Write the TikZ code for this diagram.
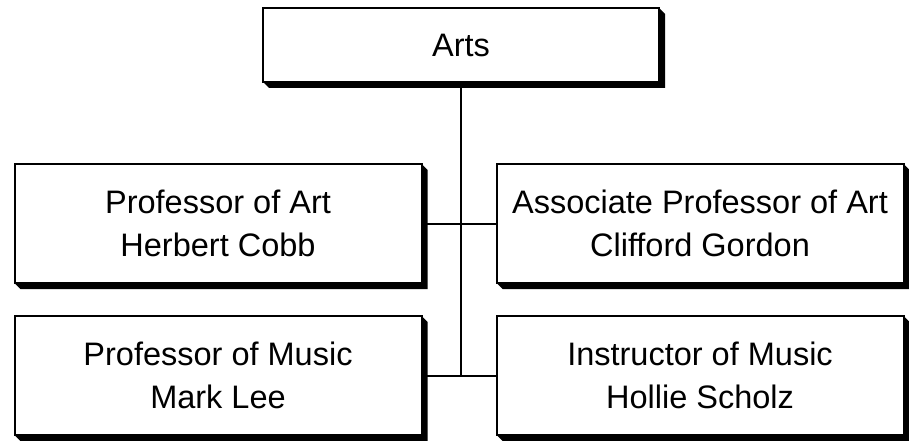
\documentclass[tikz,border=0pt]{standalone}
\usepackage{fontspec}
\setmainfont{Liberation Sans}
\pgfdeclarelayer{bg}
\pgfsetlayers{bg,main}
\begin{document}
\begin{tikzpicture}[x=1pt,y=-1pt,
  orgbox/.style={draw=black, line width=2pt, fill=white, rectangle, outer sep=0pt, inner sep=0pt,
    align=center, font=\fontsize{32.5}{43}\selectfont},
  wide/.style={minimum width=407pt, minimum height=119pt},
  conn/.style={draw=black, line width=2pt},
  shadowfill/.style={fill=black}]
\useasboundingbox (0,0) rectangle (909,441);
\node[orgbox, minimum width=396pt, minimum height=74pt] (arts) at (461,45) {Arts};
\node[orgbox, wide] (r1l) at (218,223.5) {Professor of Art\\Herbert Cobb};
\node[orgbox, wide] (r1r) at (700,223.5) {Associate Professor of Art\\Clifford Gordon};
\node[orgbox, wide] (r2l) at (218,375.5) {Professor of Music\\Mark Lee};
\node[orgbox, wide] (r2r) at (700,375.5) {Instructor of Music\\Hollie Scholz};
\begin{pgfonlayer}{bg}
\foreach \n in {arts,r1l,r1r,r2l,r2r}{
  \fill[shadowfill] (\n.north east) -- ++(6,6) -- ([shift={(6,6)}]\n.south east) -- ([shift={(6,6)}]\n.south west) -- (\n.south west) -- cycle;
}
\draw[conn] (arts.south) -- (arts.south |- r2l.east);
\draw[conn] (r1l.east) -- (r1r.west);
\draw[conn] (r2l.east) -- (r2r.west);
\end{pgfonlayer}
\end{tikzpicture}
\end{document}
